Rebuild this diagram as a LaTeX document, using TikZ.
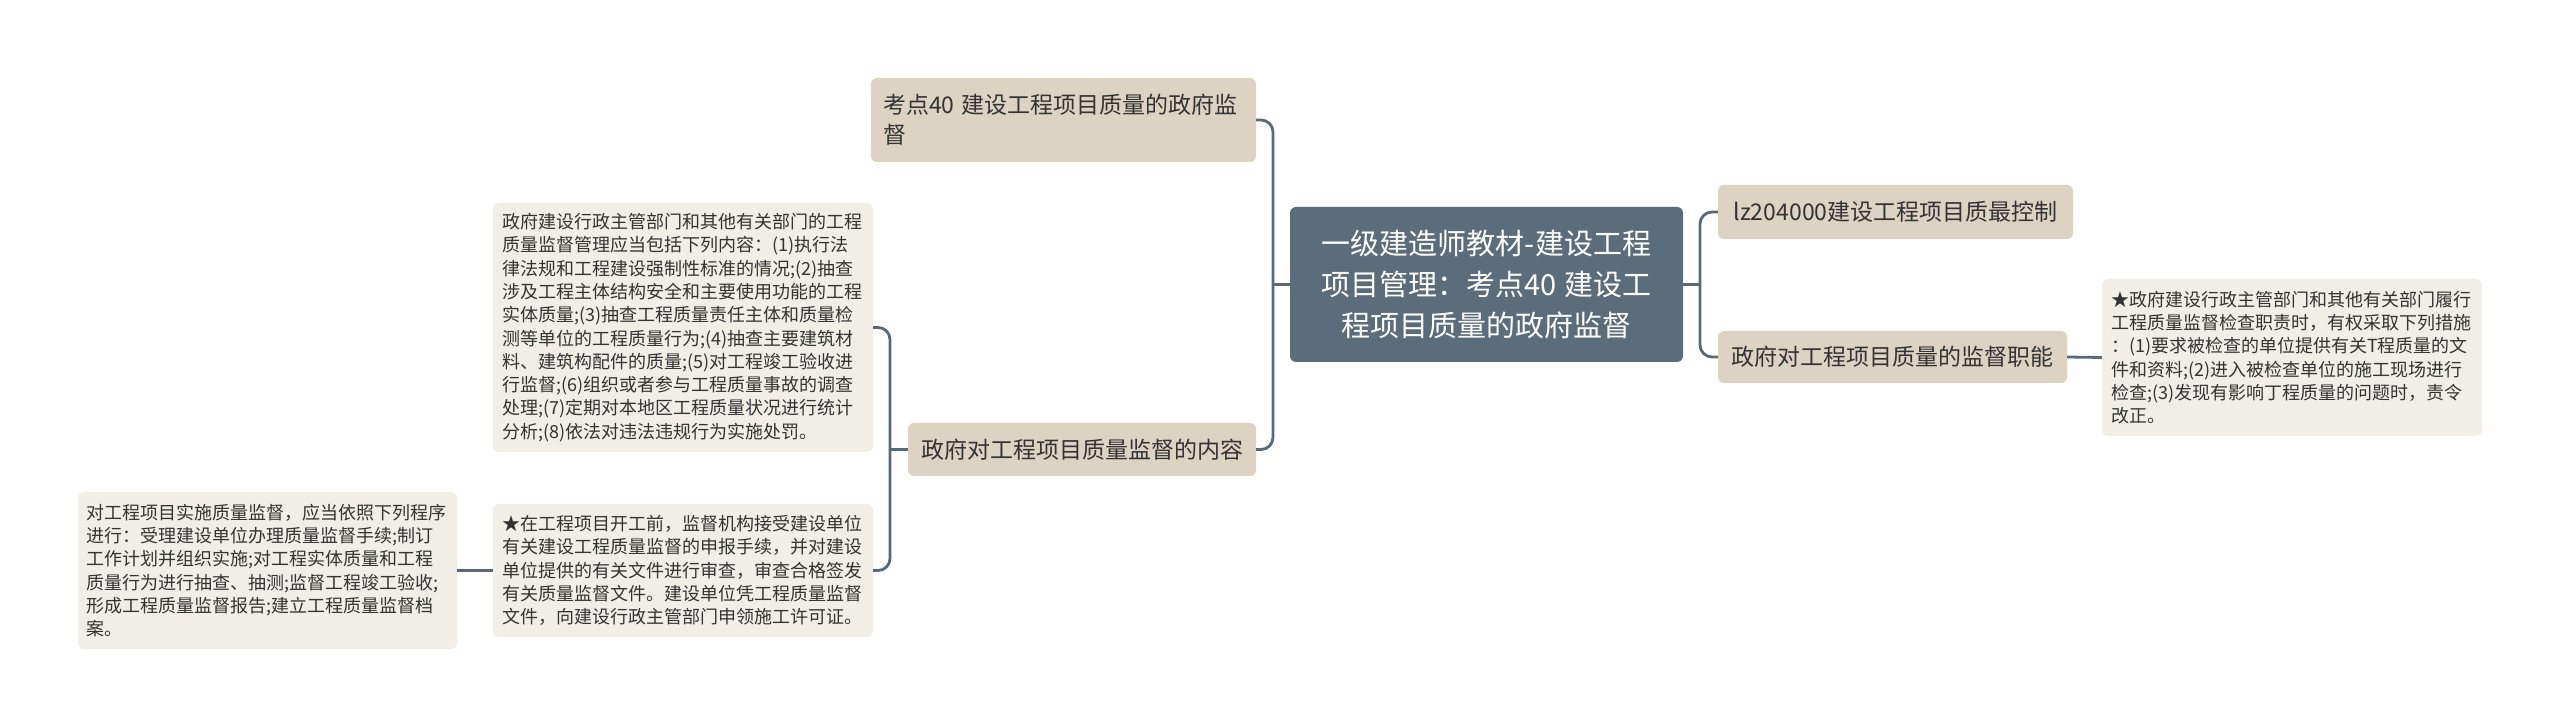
\documentclass[tikz,border=0pt]{standalone}
\usepackage{fontspec}
\setmainfont{Noto Sans CJK SC}
\definecolor{rootfill}{HTML}{5B6D7B}
\definecolor{midfill}{HTML}{DDD3C3}
\definecolor{leaffill}{HTML}{F1EEE7}
\definecolor{linec}{HTML}{586A77}
\definecolor{txt}{HTML}{333333}
\begin{document}
\begin{tikzpicture}[x=1pt,y=1pt,
  conn/.style={draw=linec,line width=2.8pt,rounded corners=12pt},
  rootbox/.style={fill=rootfill,rounded corners=6pt,text=white,align=center,
    font=\fontsize{29}{41}\selectfont,inner sep=0pt,minimum width=393pt,minimum height=155pt},
  midbox/.style={fill=midfill,rounded corners=6pt,text=txt,inner sep=0pt,
    font=\fontsize{23}{30}\selectfont},
  leafbox/.style={fill=leaffill,rounded corners=6pt,text=txt,inner sep=0pt,align=left,
    font=\fontsize{18}{23.3}\selectfont,text width=362pt}
]
\fill[white] (0,0) rectangle (2560,728);
\useasboundingbox (0,0) rectangle (2560,728);

\node[rootbox] (root) at (1486.5,443.5) {一级建造师教材-建设工程\\项目管理：考点40\hspace{0.3em}建设工\\程项目质量的政府监督};

\node[midbox,minimum width=385pt,minimum height=84pt,text width=361pt,align=left] (kd) at (1063.5,608) {考点40\hspace{0.3em}建设工程项目质量的政府监\\督};
\node[midbox,minimum width=348pt,minimum height=53pt] (nr) at (1082,278.5) {政府对工程项目质量监督的内容};
\node[midbox,minimum width=355pt,minimum height=54pt] (lz) at (1895.5,516) {lz204000建设工程项目质最控制};
\node[midbox,minimum width=349pt,minimum height=52pt] (zn) at (1892.5,371) {政府对工程项目质量的监督职能};

\node[leafbox,minimum width=380pt,minimum height=157pt] (rl) at (2292,370.5) {★政府建设行政主管部门和其他有关部门履行\\工程质量监督检查职责时，有权采取下列措施\\：(1)要求被检查的单位提供有关T程质量的文\\件和资料;(2)进入被检查单位的施工现场进行\\检查;(3)发现有影响丁程质量的问题时，责令\\改正。};

\node[leafbox,minimum width=380pt,minimum height=249pt] (l1) at (683,400.5) {政府建设行政主管部门和其他有关部门的工程\\质量监督管理应当包括下列内容：(1)执行法\\律法规和工程建设强制性标准的情况;(2)抽查\\涉及工程主体结构安全和主要使用功能的工程\\实体质量;(3)抽查工程质量责任主体和质量检\\测等单位的工程质量行为;(4)抽查主要建筑材\\料、建筑构配件的质量;(5)对工程竣工验收进\\行监督;(6)组织或者参与工程质量事故的调查\\处理;(7)定期对本地区工程质量状况进行统计\\分析;(8)依法对违法违规行为实施处罚。};

\node[leafbox,minimum width=380pt,minimum height=133pt] (l2) at (683,157.5) {★在工程项目开工前，监督机构接受建设单位\\有关建设工程质量监督的申报手续，并对建设\\单位提供的有关文件进行审查，审查合格签发\\有关质量监督文件。建设单位凭工程质量监督\\文件，向建设行政主管部门申领施工许可证。};

\node[leafbox,minimum width=379pt,minimum height=157pt] (fl) at (267.5,157.5) {对工程项目实施质量监督，应当依照下列程序\\进行：受理建设单位办理质量监督手续;制订\\工作计划并组织实施;对工程实体质量和工程\\质量行为进行抽查、抽测;监督工程竣工验收;\\形成工程质量监督报告;建立工程质量监督档\\案。};

\coordinate (brL) at (1273,443.5);
\coordinate (brN) at (890,278.5);
\coordinate (brR) at (1700,443.5);

\draw[conn] (kd.east) -| (brL) |- (nr.east);
\draw[conn] (root.west) -- (brL);
\draw[conn] (l1.east) -| (brN) |- (l2.east);
\draw[conn] (nr.west) -- (brN);
\draw[conn] (lz.west) -| (brR) |- (zn.west);
\draw[conn] (root.east) -- (brR);
\draw[conn] (zn.east) -- (rl.west);
\draw[conn] (fl.east) -- (l2.west);
\end{tikzpicture}
\end{document}
